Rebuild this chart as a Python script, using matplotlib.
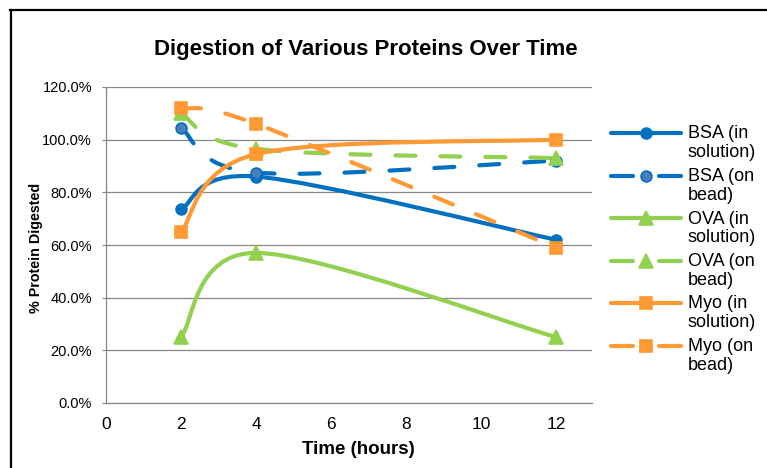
import matplotlib
matplotlib.use("Agg")
import matplotlib.pyplot as plt
from matplotlib.path import Path
from matplotlib.patches import PathPatch
from matplotlib.lines import Line2D
from matplotlib.ticker import FuncFormatter

plt.rcParams['font.family'] = ['Liberation Sans', 'DejaVu Sans']

# ---- data ----
time_hours = [2, 4, 12]
bsa_solution = [73.5, 86.0, 62.0]
bsa_bead = [104.5, 87.5, 92.0]
ova_solution = [25.0, 57.0, 25.0]
ova_bead = [110.0, 96.5, 93.0]
myo_solution = [65.0, 94.5, 100.0]
myo_bead = [112.0, 106.0, 59.0]
series_labels = ["BSA (in\nsolution)", "BSA (on\nbead)", "OVA (in\nsolution)",
                 "OVA (on\nbead)", "Myo (in\nsolution)", "Myo (on\nbead)"]
x_ticks = [0, 2, 4, 6, 8, 10, 12]
y_ticks = [0, 20, 40, 60, 80, 100, 120]

BLUE = "#0070C0"
GREEN = "#92D050"
ORANGE = "#FF9933"

styles = [
    dict(color=BLUE, marker='o', ms=7.8, mfc=BLUE, dashed=False),
    dict(color=BLUE, marker='o', ms=7.8, mfc="#4A7EBB", dashed=True),
    dict(color=GREEN, marker='^', ms=10, mfc=GREEN, dashed=False),
    dict(color=GREEN, marker='^', ms=10, mfc=GREEN, dashed=True),
    dict(color=ORANGE, marker='s', ms=9, mfc=ORANGE, dashed=False),
    dict(color=ORANGE, marker='s', ms=9, mfc=ORANGE, dashed=True),
]
series = [bsa_solution, bsa_bead, ova_solution, ova_bead, myo_solution, myo_bead]

W, H = 767, 468
fig = plt.figure(figsize=(W / 100, H / 100), dpi=100)


def fx(px):
    return px / W


def fy(py):
    return 1 - py / H


ax = fig.add_axes([fx(106), fy(403), fx(592) - fx(106), fy(87) - fy(403)])
ax.set_xlim(0, 12.96)
ax.set_ylim(0, 120)
ax.set_xticks(x_ticks)
ax.set_yticks(y_ticks)
ax.yaxis.set_major_formatter(FuncFormatter(lambda v, p: f"{v:.1f}%"))
ax.grid(axis='y', color='#878787', lw=0.9)
ax.set_axisbelow(True)
for s in ['top', 'right']:
    ax.spines[s].set_visible(False)
for s in ['left', 'bottom']:
    ax.spines[s].set_color('#878787')
    ax.spines[s].set_linewidth(0.9)
ax.tick_params(axis='y', length=3, color='#878787', labelsize=10.5, pad=7)
ax.tick_params(axis='x', length=0, labelsize=12.5, pad=10)


def smooth_path(xs, ys):
    pts = list(zip(xs, ys))
    n = len(pts)
    verts = [pts[0]]
    codes = [Path.MOVETO]
    for i in range(n - 1):
        p0 = pts[i - 1] if i > 0 else pts[i]
        p1 = pts[i]
        p2 = pts[i + 1]
        p3 = pts[i + 2] if i + 2 < n else pts[i + 1]
        c1 = (p1[0] + (p2[0] - p0[0]) / 6, p1[1] + (p2[1] - p0[1]) / 6)
        c2 = (p2[0] - (p3[0] - p1[0]) / 6, p2[1] - (p3[1] - p1[1]) / 6)
        verts += [c1, c2, p2]
        codes += [Path.CURVE4] * 3
    return Path(verts, codes)


LW = 3
DASH = (0, (4.8, 6.0))
for ys, st in zip(series, styles):
    patch = PathPatch(smooth_path(time_hours, ys), fill=False, edgecolor=st['color'],
                      lw=LW, linestyle=DASH if st['dashed'] else '-',
                      capstyle='round', joinstyle='round')
    ax.add_patch(patch)
    ax.plot(time_hours, ys, linestyle='none', marker=st['marker'], ms=st['ms'],
            mfc=st['mfc'], mec=st['color'], mew=1.2)

ax.set_xlabel("Time (hours)", fontsize=13.5, fontweight='bold')
ax.xaxis.set_label_coords((358 - 106) / (592 - 106), -(450 - 403) / (403 - 87))
ax.xaxis.label.set_va('center')
ax.set_ylabel("% Protein Digested", fontsize=10.3, fontweight='bold')
ax.yaxis.set_label_coords(-(106 - 36) / (592 - 106), (403 - 248) / (403 - 87))
ax.yaxis.label.set_va('center')

fig.text(fx(366), fy(49), "Digestion of Various Proteins Over Time",
         fontsize=16, fontweight='bold', ha='center', va='center')

# legend (manual)
leg_y = [133, 175.5, 218, 260.5, 303, 345.5]
for yy, st, lab in zip(leg_y, styles, series_labels):
    if st['dashed']:
        segs = [(611, 633), (659, 681)]
    else:
        segs = [(611, 681)]
    for a, b in segs:
        fig.add_artist(Line2D([fx(a), fx(b)], [fy(yy), fy(yy)], color=st['color'],
                              lw=LW, solid_capstyle='round'))
    fig.add_artist(Line2D([fx(646)], [fy(yy)], marker=st['marker'], ms=st['ms'],
                          mfc=st['mfc'], mec=st['color'], mew=1.2, linestyle='none'))
    fig.text(fx(688), fy(yy - 7.5), lab, fontsize=13, ha='left', va='top',
             linespacing=1.15)

# chart border
fig.add_artist(Line2D([fx(10.5), fx(10.5)], [fy(10), fy(470)], color='black', lw=1.6))
fig.add_artist(Line2D([fx(10), fx(770)], [fy(10), fy(10)], color='black', lw=1.6))

fig.savefig("out.png", dpi=100)
